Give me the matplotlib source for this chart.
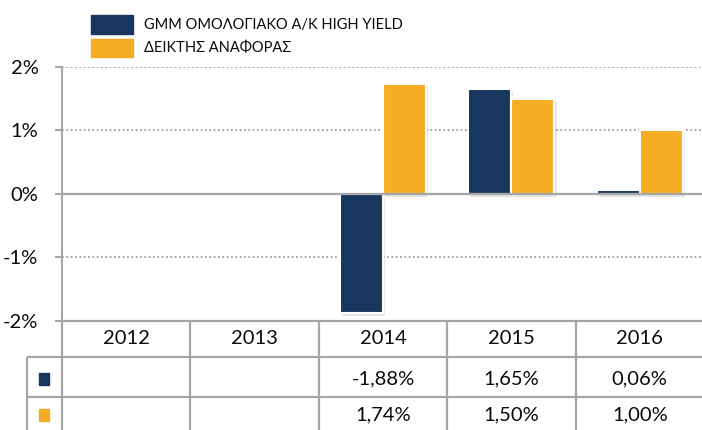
import matplotlib
matplotlib.use("Agg")
import matplotlib.pyplot as plt
import matplotlib.patheffects as pe
from matplotlib.patches import Rectangle
import numpy as np

plt.rcParams['font.family'] = ['Lato', 'DejaVu Sans']

years = ["2012", "2013", "2014", "2015", "2016"]
fund = [np.nan, np.nan, -1.88, 1.65, 0.06]
bench = [np.nan, np.nan, 1.74, 1.50, 1.00]
series_names = ["GMM ΟΜΟΛΟΓΙΑΚΟ Α/Κ HIGH YIELD", "ΔΕΙΚΤΗΣ ΑΝΑΦΟΡΑΣ"]
yticks = [-2, -1, 0, 1, 2]
ytick_labels = ["-2%", "-1%", "0%", "1%", "2%"]

NAVY = "#17375E"
ORANGE = "#F5AE23"
GRID = "#9E9E9E"
LINE = "#A6A6A6"
TXT = "#0A0A0A"

W, H = 702, 430
fig = plt.figure(figsize=(W / 100, H / 100), dpi=100)

def px(l, b, r, t):
    return [l / W, b / H, (r - l) / W, (t - b) / H]

# main axes: x 62..704 px, y (from top) 67..321
ax = fig.add_axes(px(62, H - 321, 704, H - 67))
ax.set_xlim(-0.5, len(years) - 0.5)
ax.set_ylim(-2, 2)

x = np.arange(len(years))
bw = 0.335
shadow = [pe.SimplePatchShadow(offset=(1.5, -2), shadow_rgbFace="#000000", alpha=0.10), pe.Normal()]
b1 = ax.bar(x - 0.168, np.nan_to_num(fund), width=bw, color=NAVY, edgecolor="white", linewidth=1.5, zorder=3)
b2 = ax.bar(x + 0.168, np.nan_to_num(bench), width=bw, color=ORANGE, edgecolor="white", linewidth=1.5, zorder=3)
for b in list(b1) + list(b2):
    b.set_path_effects(shadow)

for v in [2, 1, -1]:
    ax.axhline(v, color=GRID, linestyle=(0, (1, 1.4)), linewidth=1.3, zorder=1)
ax.axhline(0, color=LINE, linewidth=1.6, zorder=4)

for s in ["top", "right", "bottom"]:
    ax.spines[s].set_visible(False)
ax.spines["left"].set_color(LINE)
ax.spines["left"].set_linewidth(1.5)
ax.set_xticks([])
ax.set_yticks(yticks)
ax.set_yticklabels(ytick_labels)
ax.tick_params(axis="y", length=5, width=1.5, color=LINE, pad=12, labelsize=14.5, labelcolor=TXT)

# legend above axes
handles = [Rectangle((0, 0), 1, 1, color=NAVY), Rectangle((0, 0), 1, 1, color=ORANGE)]
fig.legend(handles, series_names, loc="upper left", bbox_to_anchor=(85 / W, 1 - 9 / H),
           frameon=False, fontsize=10.5, handlelength=2.9, handleheight=1.6,
           handletextpad=0.75, labelspacing=0.35, borderaxespad=0, labelcolor=TXT)

# data table below axes
tax = fig.add_axes(px(62, 0, 704, H - 321))
tax.set_xlim(-0.5, len(years) - 0.5)
tax.set_ylim(109, 0)
tax.axis("off")
row_y = [0, 36, 76, 109]
lab_x0 = -0.5 - 35 / 128.4
lk = dict(color=LINE, linewidth=1.6, clip_on=False, solid_capstyle="butt")
tax.plot([-0.5, len(years) - 0.5], [0, 0], **lk)
tax.plot([lab_x0, len(years) - 0.5], [row_y[1], row_y[1]], **lk)
tax.plot([lab_x0, len(years) - 0.5], [row_y[2], row_y[2]], **lk)
tax.plot([lab_x0, lab_x0], [row_y[1], row_y[3]], **lk)
for i in range(len(years) + 1):
    tax.plot([i - 0.5, i - 0.5], [0, row_y[3]], **lk)

for i, yr in enumerate(years):
    tax.text(i, 18, yr, ha="center", va="center", fontsize=14.5, color=TXT)

def fmt(v):
    return "" if np.isnan(v) else ("%.2f%%" % v).replace(".", ",")

for r, (vals, col) in enumerate([(fund, NAVY), (bench, ORANGE)]):
    yc = (row_y[r + 1] + row_y[r + 2]) / 2 + 1.5
    tax.add_patch(Rectangle((lab_x0 + 12 / 128.4, yc - 6), 10 / 128.4, 12, color=col, clip_on=False))
    for i, v in enumerate(vals):
        tax.text(i, yc, fmt(v), ha="center", va="center", fontsize=14.5, color=TXT)

fig.savefig("out.png", dpi=100)
